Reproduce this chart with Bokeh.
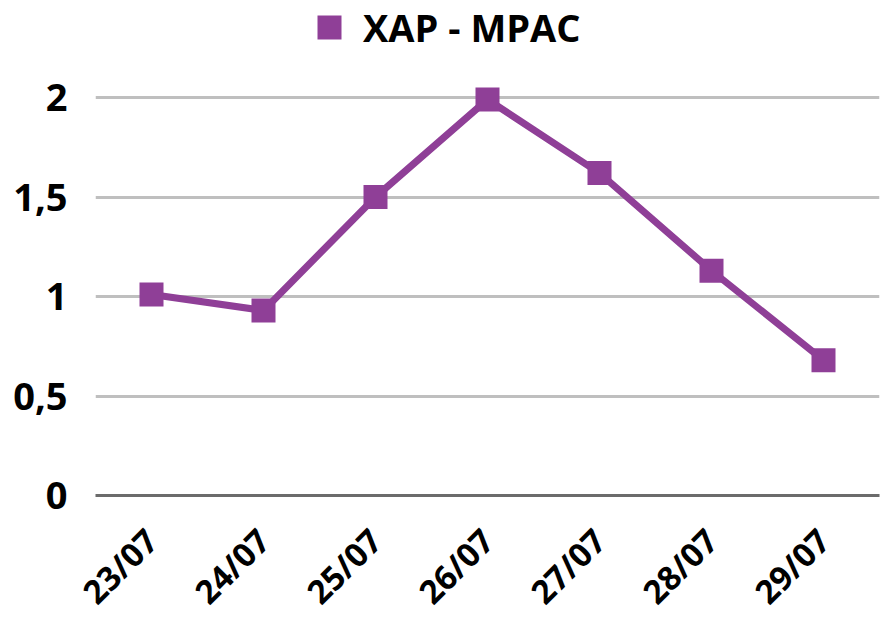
from bokeh.plotting import figure
from bokeh.models import FactorRange, Range1d, FixedTicker, Legend, LegendItem
from bokeh.embed import file_html
from bokeh.resources import INLINE
import math

categories = ["23/07", "24/07", "25/07", "26/07", "27/07", "28/07", "29/07"]
values = [1.01, 0.93, 1.5, 1.99, 1.62, 1.13, 0.68]
series_name = "XAP - MPAC"
y_ticks = [0, 0.5, 1, 1.5, 2]
y_tick_labels = ["0", "0,5", "1", "1,5", "2"]

COLOR = "#8F3F97"
FONT = "Open Sans"

# frame extends to the top of the page so the legend can sit above the 2-gridline
FRAME_H = 495
Y_MAX = 2 * FRAME_H / 398.0

p = figure(
    x_range=FactorRange(*categories, range_padding=0),
    y_range=Range1d(0, Y_MAX),
    frame_width=784, frame_height=FRAME_H,
    min_border_left=95, min_border_right=7, min_border_top=0, min_border_bottom=124,
    output_backend="svg", toolbar_location=None,
    background_fill_color="white", border_fill_color="white",
)
p.outline_line_color = None

line = p.line(categories, values, line_color=COLOR, line_width=7)
pts = p.scatter(categories, values, marker="square", size=24, fill_color=COLOR, line_color=None)

# axes
p.yaxis.ticker = FixedTicker(ticks=y_ticks)
p.yaxis.major_label_overrides = {t: l for t, l in zip(y_ticks, y_tick_labels)}
p.yaxis.axis_line_color = None
p.yaxis.major_tick_line_color = None
p.yaxis.minor_tick_line_color = None
p.yaxis.major_label_standoff = 22
p.yaxis.major_label_text_font = FONT
p.yaxis.major_label_text_font_style = "bold"
p.yaxis.major_label_text_font_size = "38px"
p.yaxis.major_label_text_color = "black"

p.xaxis.axis_line_color = "#6B6B6B"
p.xaxis.axis_line_width = 3
p.xaxis.major_tick_line_color = None
p.xaxis.minor_tick_line_color = None
p.xaxis.major_label_orientation = math.pi / 4
p.xaxis.major_label_standoff = 33
p.xaxis.major_label_text_font = FONT
p.xaxis.major_label_text_font_style = "bold"
p.xaxis.major_label_text_font_size = "33px"
p.xaxis.major_label_text_color = "black"

p.xgrid.grid_line_color = None
p.ygrid.grid_line_color = "#BFBFBF"
p.ygrid.grid_line_width = 3

legend = Legend(
    items=[LegendItem(label=series_name, renderers=[pts])],
    location=(204, 438), orientation="horizontal",
    glyph_width=60, glyph_height=60, label_standoff=4,
    label_text_font=FONT, label_text_font_style="bold", label_text_font_size="38px",
    label_text_color="black",
    border_line_color=None, background_fill_alpha=0,
    padding=0, margin=0,
)
p.add_layout(legend, "center")

open("out.html", "w").write(file_html(p, INLINE))
